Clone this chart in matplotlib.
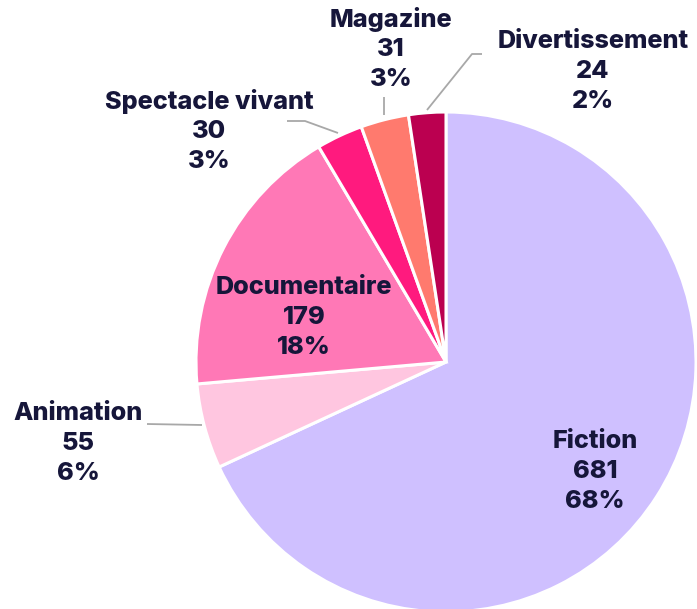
import matplotlib
matplotlib.use("Agg")
import matplotlib.pyplot as plt

categories = ["Fiction", "Animation", "Documentaire", "Spectacle vivant", "Magazine", "Divertissement"]
values = [681, 55, 179, 30, 31, 24]
percents = ["68%", "6%", "18%", "3%", "3%", "2%"]
colors = ["#cfc0ff", "#ffc6e0", "#ff78b6", "#ff1a7e", "#ff7a6e", "#bb0050"]

W, H = 697, 609
fig = plt.figure(figsize=(W / 100, H / 100), dpi=100)
ax = fig.add_axes([0, 0, 1, 1])
ax.set_xlim(0, W)
ax.set_ylim(0, H)
ax.set_aspect("equal")
ax.axis("off")

cx, cy, r = 446, H - 362, 250
ax.pie(values, colors=colors, startangle=90, counterclock=False,
       center=(cx, cy), radius=r, frame=True,
       wedgeprops=dict(edgecolor="white", linewidth=2.2))
ax.set_xlim(0, W)
ax.set_ylim(0, H)
ax.axis("off")

txt_color = "#16163a"
font = dict(family="Inter", weight=800, size=18.2, color=txt_color,
            ha="center", va="center")

# label positions (pixel coords from top)
label_pos = {
    "Fiction": (595, 441),
    "Animation": (78, 414),
    "Documentaire": (304, 287),
    "Spectacle vivant": (209, 101),
    "Magazine": (391, 20),
    "Divertissement": (593, 42),
}
for cat, val, pct in zip(categories, values, percents):
    x, y = label_pos[cat]
    for i, s in enumerate([cat, str(val), pct]):
        ax.text(x, H - (y + 30 * i), s, **font)

line_color = "#a8a8a8"
leaders = [
    [(427, 110), (472, 54), (482, 54)],
    [(384, 115), (384, 97)],
    [(338, 133), (305, 121), (287, 121)],
    [(202, 425), (147, 424)],
]
for pts in leaders:
    xs = [p[0] for p in pts]
    ys = [H - p[1] for p in pts]
    ax.plot(xs, ys, color=line_color, linewidth=1.3, solid_capstyle="butt")

fig.savefig("out.png", dpi=100)
